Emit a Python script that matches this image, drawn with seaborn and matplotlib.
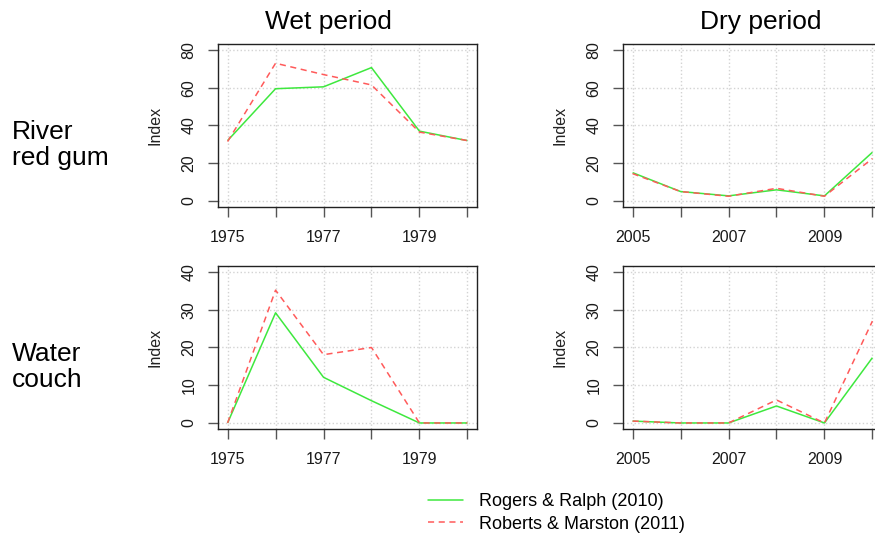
import matplotlib
matplotlib.use("Agg")
import matplotlib.pyplot as plt
import seaborn as sns
import pandas as pd
from matplotlib.lines import Line2D

# data
wet_years = [1975, 1976, 1977, 1978, 1979, 1980]
dry_years = [2005, 2006, 2007, 2008, 2009, 2010]
sources = ["Rogers & Ralph (2010)", "Roberts & Marston (2011)"]
rows = ["River\nred gum", "Water\ncouch"]
periods = ["Wet period", "Dry period"]

rrg_wet_rogers = [32, 59.5, 60.5, 70.7, 37, 32]
rrg_wet_roberts = [31.5, 73, 67, 61.5, 36.5, 32]
rrg_dry_rogers = [15, 5, 2.7, 5.9, 2.7, 25.8]
rrg_dry_roberts = [14.5, 5, 2.5, 6.7, 2.5, 22.5]
wc_wet_rogers = [0, 29.2, 12.1, 5.9, 0, 0]
wc_wet_roberts = [0, 35.2, 18.1, 20, 0, 0]
wc_dry_rogers = [0.5, 0, 0, 4.5, 0, 17.3]
wc_dry_roberts = [0.5, 0, 0, 6.1, 0, 27]

y_ticks = [[0, 20, 40, 60, 80], [0, 10, 20, 30, 40]]
y_limits = [(0, 80), (0, 40)]

green = "#3ee83e"
red = "#ff5a5a"

sns.set_style("white")
plt.rcParams['font.family'] = ['Liberation Sans', 'DejaVu Sans']
plt.rcParams['text.color'] = 'black'


def long_df(years, rogers, roberts):
    return pd.DataFrame({
        'year': list(years) * 2,
        'index': list(rogers) + list(roberts),
        'source': [sources[0]] * len(years) + [sources[1]] * len(years),
    })


panels = [
    [long_df(wet_years, rrg_wet_rogers, rrg_wet_roberts),
     long_df(dry_years, rrg_dry_rogers, rrg_dry_roberts)],
    [long_df(wet_years, wc_wet_rogers, wc_wet_roberts),
     long_df(dry_years, wc_dry_rogers, wc_dry_roberts)],
]
year_sets = [wet_years, dry_years]

W, H = 875, 536
fig = plt.figure(figsize=(W / 100, H / 100), dpi=100)

box_left = [218, 623]
box_top = [44, 266]
box_w, box_h = 259, 163

for r in range(2):
    for c in range(2):
        ax = fig.add_axes([box_left[c] / W, 1 - (box_top[r] + box_h) / H,
                           box_w / W, box_h / H])
        years = year_sets[c]
        sns.lineplot(data=panels[r][c], x='year', y='index', hue='source',
                     style='source', hue_order=sources, style_order=sources,
                     palette=[green, red], dashes=[(1, 0), (4, 3)],
                     linewidth=1.1, legend=False, ax=ax, zorder=3)
        lo, hi = y_limits[r]
        pad_y = (hi - lo) * 0.04
        ax.set_ylim(lo - pad_y, hi + pad_y)
        pad_x = (years[-1] - years[0]) * 0.04
        ax.set_xlim(years[0] - pad_x, years[-1] + pad_x)
        ax.set_xticks(years)
        ax.set_xticklabels([str(y) if i % 2 == 0 else "" for i, y in enumerate(years)],
                           fontsize=11.5)
        ax.set_yticks(y_ticks[r])
        ax.set_yticklabels([str(v) for v in y_ticks[r]], rotation=90, va='center',
                           fontsize=11.5)
        ax.tick_params(axis='both', direction='out', length=7, width=1,
                       color='#555555', labelcolor='#1a1a1a',
                       bottom=True, left=True)
        ax.tick_params(axis='x', pad=9.5)
        ax.tick_params(axis='y', pad=8.5)
        ax.grid(True, color='#d3d3d3', linestyle=':', linewidth=1)
        for s in ax.spines.values():
            s.set_color('#222222')
            s.set_linewidth(1)
            s.set_visible(True)
        ax.set_xlabel("")
        ax.set_ylabel("Index", fontsize=11.5, color='#222222', labelpad=14)

# column titles and row labels
fig.text(328 / W, 1 - 22 / H, periods[0], fontsize=19, ha='center', va='center')
fig.text(761 / W, 1 - 22 / H, periods[1], fontsize=19, ha='center', va='center')
fig.text(12 / W, 1 - 145 / H, rows[0], fontsize=19, ha='left', va='center',
         linespacing=1.1)
fig.text(12 / W, 1 - 367 / H, rows[1], fontsize=19, ha='left', va='center',
         linespacing=1.1)

handles = [Line2D([], [], color=green, lw=1.1),
           Line2D([], [], color=red, lw=1.1, dashes=(4, 3))]
fig.legend(handles, sources, loc='center left',
           bbox_to_anchor=(428 / W, 1 - 513 / H), frameon=False, fontsize=13,
           handlelength=1.95, handletextpad=0.85, labelspacing=0.3,
           borderpad=0, borderaxespad=0)

fig.savefig("out.png", dpi=100)
